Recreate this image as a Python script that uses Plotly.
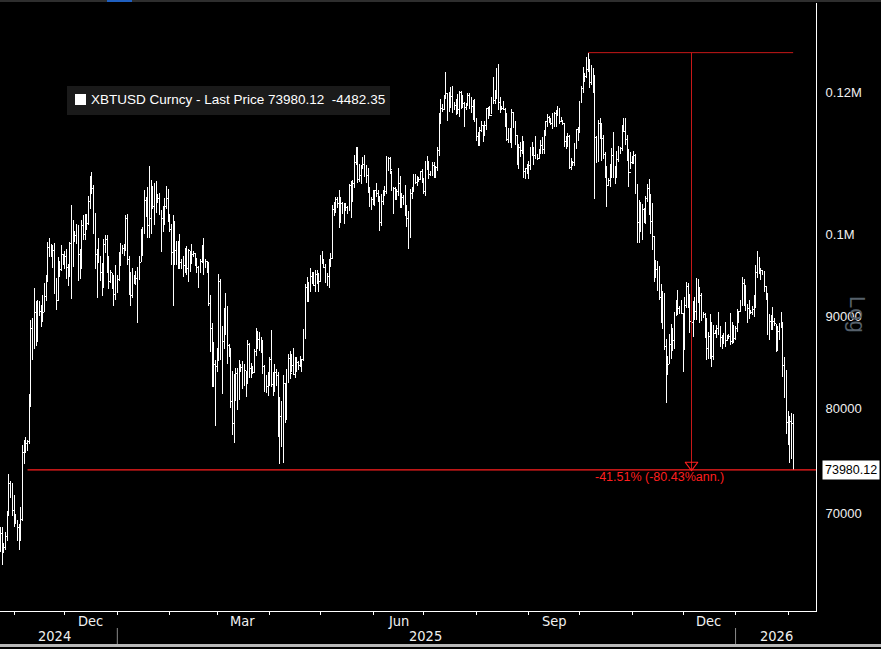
import math
import pandas as pd
import plotly.graph_objects as go

# ---------------- DATA (prices in thousands of USD, daily bars) ----------------
FIRST_OPEN = 67.0

C_2024_10 = [68.2, 66.6, 67.0, 67.9, 70.0, 72.7, 72.3, 70.2]
H_2024_10 = [68.8, 68.8, 67.4, 68.3, 70.2, 73.6, 72.9, 72.7]
L_2024_10 = [66.6, 65.5, 66.5, 66.8, 67.5, 69.7, 71.4, 69.7]

C_2024_11 = [69.5, 69.3, 68.7, 67.8, 69.4, 75.6, 75.9, 76.5, 76.7, 80.5, 88.7, 87.9, 90.5, 87.3, 91.0,
             90.6, 89.8, 90.5, 92.3, 94.3, 98.4, 98.9, 97.7, 98.0, 93.1, 91.9, 95.9, 95.6, 97.5, 96.4]
H_2024_11 = [71.6, 69.9, 69.4, 69.0, 70.5, 76.4, 76.9, 77.2, 76.9, 81.5, 89.6, 89.9, 93.4, 91.8, 91.9,
             91.8, 91.4, 92.5, 94.0, 94.9, 99.0, 99.6, 98.8, 98.6, 98.9, 94.6, 97.2, 96.6, 98.7, 97.5]
L_2024_11 = [68.8, 69.0, 67.5, 66.8, 67.5, 69.3, 74.5, 75.6, 75.8, 76.5, 80.2, 85.1, 86.3, 86.7, 87.1,
             90.1, 88.8, 89.4, 90.5, 91.8, 94.1, 97.2, 97.2, 95.8, 92.6, 90.8, 91.8, 94.7, 95.4, 96.2]

C_2024_12 = [97.2, 95.9, 96.0, 98.8, 96.6, 99.9, 99.9, 101.2, 97.4, 96.7, 101.2, 100.0, 101.5, 101.4, 104.3, 106.1,
             106.1, 100.2, 97.5, 97.8, 97.2, 95.2, 94.9, 98.7, 99.4, 95.8, 94.2, 95.2, 93.6, 92.6, 93.4]
H_2024_12 = [97.9, 98.2, 96.3, 99.0, 103.9, 101.9, 100.5, 101.4, 101.2, 98.2, 101.9, 102.5, 102.6, 102.6, 105.1, 107.8,
             108.3, 106.5, 102.8, 98.1, 99.5, 97.3, 96.4, 99.4, 99.9, 99.9, 97.3, 95.5, 95.2, 94.9, 96.1]
L_2024_12 = [95.7, 94.4, 93.6, 94.7, 92.1, 95.9, 99.0, 98.8, 94.2, 94.4, 95.7, 99.3, 99.3, 100.6, 101.2, 103.3,
             105.3, 100.0, 95.7, 92.2, 96.4, 94.2, 92.4, 93.4, 97.6, 95.2, 93.3, 94.0, 93.3, 91.3, 92.0]

C_2025_01 = [94.4, 96.9, 98.1, 98.2, 98.3, 102.1, 96.9, 95.0, 92.5, 94.7, 94.5, 94.5, 94.5, 96.5, 100.5, 99.9,
             104.4, 104.4, 101.1, 102.0, 106.1, 103.7, 104.0, 104.8, 104.7, 102.6, 102.0, 101.3, 103.7, 104.7, 102.4]
H_2025_01 = [94.9, 97.8, 98.9, 98.7, 98.8, 102.5, 102.7, 97.3, 95.3, 95.8, 94.9, 95.4, 95.9, 97.3, 100.7, 100.9,
             105.9, 104.9, 106.3, 109.1, 107.2, 106.4, 106.8, 107.1, 105.3, 105.5, 103.2, 103.7, 104.8, 106.4, 106.0]
L_2025_01 = [92.8, 94.2, 96.0, 97.5, 97.3, 97.9, 96.1, 92.5, 91.2, 92.2, 93.8, 93.7, 89.3, 94.3, 96.5, 97.3,
             100.0, 102.3, 99.6, 99.5, 100.1, 103.3, 101.2, 102.8, 104.1, 102.5, 97.8, 100.3, 101.3, 103.3, 101.6]

C_2025_02 = [100.6, 97.7, 101.4, 97.9, 96.6, 96.6, 96.5, 96.5, 96.1, 97.4, 95.7, 97.9, 96.6, 97.5,
             97.6, 96.1, 95.8, 95.5, 96.6, 98.3, 96.1, 96.6, 96.3, 91.5, 88.7, 84.3, 84.7, 84.4]
H_2025_02 = [102.7, 101.4, 102.5, 101.7, 99.1, 99.2, 100.1, 96.9, 97.3, 98.3, 98.5, 98.1, 97.9, 98.8,
             97.9, 97.7, 97.0, 96.0, 96.9, 98.7, 99.5, 96.9, 96.6, 96.5, 92.5, 89.3, 87.1, 85.1]
L_2025_02 = [100.3, 96.2, 91.2, 96.2, 96.2, 95.7, 95.7, 95.7, 94.7, 95.2, 94.9, 94.1, 95.3, 96.3,
             97.1, 96.0, 95.2, 93.4, 95.2, 96.4, 94.9, 95.8, 95.2, 91.3, 86.0, 82.3, 82.3, 78.2]

C_2025_03 = [86.0, 94.2, 86.1, 87.2, 90.6, 89.9, 86.7, 86.1, 80.7, 78.5, 82.9, 83.7, 81.0, 84.0, 84.3, 82.6,
             84.0, 82.7, 86.8, 84.2, 84.0, 83.8, 86.1, 87.5, 87.4, 86.9, 87.2, 84.4, 82.6, 82.3, 82.5]
H_2025_03 = [86.5, 95.0, 94.4, 88.9, 91.0, 92.8, 91.2, 86.9, 86.5, 84.0, 83.6, 84.3, 84.3, 85.2, 84.7, 85.0,
             84.7, 84.0, 87.4, 87.0, 84.8, 84.5, 86.3, 88.7, 88.4, 88.2, 87.7, 87.4, 84.6, 83.5, 83.9]
L_2025_03 = [83.8, 85.0, 85.1, 81.5, 86.3, 87.9, 84.7, 85.5, 80.1, 77.4, 76.6, 80.8, 79.9, 80.9, 83.8, 82.0,
             82.4, 81.2, 82.6, 83.2, 83.2, 83.6, 83.8, 85.6, 86.4, 86.1, 85.9, 83.6, 81.7, 81.6, 81.3]

C_2025_04 = [85.2, 82.5, 83.1, 83.8, 83.5, 78.4, 79.2, 76.3, 82.6, 79.6, 83.4, 85.3, 83.7, 84.5, 83.6,
             84.0, 84.9, 84.5, 85.1, 85.2, 87.5, 93.4, 93.7, 93.9, 94.7, 94.6, 93.7, 95.0, 94.3, 94.2]
H_2025_04 = [85.5, 88.5, 83.9, 84.7, 84.2, 83.8, 81.2, 80.8, 83.5, 82.7, 84.2, 85.8, 86.1, 85.8, 86.5,
             85.5, 85.5, 85.0, 85.6, 85.3, 88.6, 93.9, 94.7, 94.1, 95.8, 95.3, 95.3, 95.6, 95.5, 95.2]
L_2025_04 = [82.4, 82.3, 81.3, 81.7, 82.4, 77.2, 74.5, 76.2, 74.6, 78.5, 78.9, 82.7, 83.1, 83.9, 83.6,
             83.2, 83.8, 84.1, 84.4, 83.9, 85.0, 87.5, 91.7, 91.7, 92.9, 93.9, 93.6, 92.9, 93.8, 92.9]

C_2025_05 = [96.5, 96.9, 95.9, 94.3, 94.7, 96.8, 97.0, 103.2, 102.9, 104.6, 104.1, 102.8, 104.1, 103.5, 103.7, 103.5,
             103.2, 106.5, 105.6, 106.8, 109.6, 111.7, 107.3, 107.8, 108.9, 109.4, 108.9, 107.8, 105.6, 103.9, 104.6]
H_2025_05 = [97.4, 97.9, 96.9, 96.3, 95.2, 96.9, 97.7, 103.8, 104.3, 104.9, 104.9, 105.8, 104.9, 104.3, 104.1, 104.1,
             103.7, 106.6, 107.1, 107.2, 110.7, 111.9, 111.8, 109.4, 109.3, 110.4, 110.7, 109.3, 108.9, 106.3, 104.9]
L_2025_05 = [94.2, 96.3, 95.8, 94.0, 93.6, 93.4, 95.9, 96.9, 102.4, 102.8, 103.4, 100.8, 101.5, 102.6, 101.4, 103.1,
             102.6, 103.1, 102.1, 104.2, 106.1, 109.3, 106.8, 106.9, 106.7, 108.7, 107.6, 106.8, 105.4, 103.6, 103.2]

C_2025_06 = [105.7, 105.8, 105.4, 104.7, 101.5, 104.3, 105.6, 105.7, 110.3, 110.2, 108.7, 105.9, 106.1, 105.5, 105.6,
             106.8, 104.6, 104.9, 104.6, 103.3, 102.1, 101.0, 105.4, 105.9, 107.1, 106.9, 107.1, 107.3, 108.4, 107.1]
H_2025_06 = [105.9, 105.9, 106.8, 105.9, 105.0, 105.3, 105.9, 106.4, 110.6, 110.4, 110.4, 108.5, 106.2, 106.2, 106.0,
             108.9, 107.7, 105.5, 105.2, 106.5, 103.9, 103.0, 106.0, 106.3, 108.1, 108.0, 107.8, 107.6, 108.5, 108.8]
L_2025_06 = [103.9, 103.7, 104.9, 104.2, 100.4, 101.1, 103.9, 105.1, 105.3, 108.4, 108.1, 105.7, 102.7, 104.5, 104.5,
             105.0, 103.4, 103.5, 103.9, 102.4, 100.9, 98.2, 99.6, 104.7, 105.6, 106.6, 106.4, 106.9, 107.2, 106.8]

C_2025_07 = [105.7, 108.8, 109.6, 108.0, 108.2, 109.2, 108.3, 108.9, 111.3, 115.9, 117.5, 117.4, 119.1, 119.8, 117.7, 118.7,
             119.3, 117.9, 117.9, 117.3, 117.4, 119.9, 118.6, 118.3, 117.6, 117.9, 119.4, 118.0, 117.8, 117.8, 115.7]
H_2025_07 = [107.5, 109.8, 110.5, 109.8, 108.4, 109.7, 109.7, 109.2, 111.9, 116.8, 118.9, 118.2, 119.5, 123.1, 119.9, 120.0,
             120.8, 120.9, 118.4, 118.9, 119.7, 120.2, 120.1, 119.5, 118.4, 118.3, 119.8, 119.8, 119.3, 118.8, 118.9]
L_2025_07 = [105.3, 105.1, 108.6, 107.3, 107.8, 107.8, 107.5, 107.5, 108.4, 110.6, 115.2, 116.9, 117.3, 118.9, 115.7, 116.9,
             117.5, 116.8, 117.3, 116.5, 116.6, 116.2, 117.4, 117.6, 114.8, 117.2, 117.9, 117.4, 116.8, 115.8, 115.5]

C_2025_08 = [113.3, 112.5, 114.2, 115.0, 114.1, 115.0, 117.5, 116.7, 116.5, 119.3, 118.7, 120.2, 123.3, 118.4, 117.4, 117.5,
             117.4, 116.3, 112.9, 114.3, 112.5, 116.9, 115.4, 113.5, 110.1, 111.8, 111.3, 112.6, 108.4, 108.8, 108.2]
H_2025_08 = [116.1, 114.0, 114.7, 115.7, 115.1, 115.7, 117.6, 117.7, 117.9, 119.3, 122.3, 120.3, 123.7, 124.4, 119.3, 117.9,
             118.6, 117.6, 116.8, 114.6, 114.6, 117.4, 117.0, 115.6, 113.6, 112.3, 112.6, 113.4, 112.7, 108.9, 109.5]
L_2025_08 = [112.7, 112.0, 112.0, 114.0, 112.6, 113.4, 114.3, 115.9, 116.3, 116.6, 118.1, 118.2, 118.9, 117.2, 116.8, 117.2,
             117.2, 114.7, 112.7, 112.4, 112.4, 111.7, 114.6, 112.1, 109.3, 108.7, 110.4, 110.9, 107.5, 107.4, 108.1]

C_2025_09 = [109.2, 111.2, 111.7, 110.7, 110.7, 110.2, 111.1, 112.0, 111.5, 113.9, 115.5, 116.1, 115.9, 115.3, 115.4,
             116.8, 116.5, 117.1, 115.6, 115.7, 115.3, 112.7, 112.0, 113.3, 109.0, 109.6, 109.7, 112.1, 114.4, 114.0]
H_2025_09 = [109.9, 111.8, 112.6, 111.8, 113.4, 110.9, 111.6, 112.8, 113.3, 114.3, 115.6, 116.7, 116.4, 116.1, 116.8,
             117.0, 117.3, 117.9, 117.5, 116.2, 115.8, 115.4, 113.4, 113.9, 113.6, 110.3, 109.8, 112.4, 114.4, 114.8]
L_2025_09 = [107.3, 108.6, 110.6, 109.3, 110.2, 110.0, 110.2, 110.8, 110.9, 110.9, 113.4, 114.8, 115.3, 115.1, 114.4,
             114.8, 114.7, 116.3, 115.2, 115.5, 115.1, 111.9, 111.5, 111.9, 108.7, 108.6, 109.2, 109.2, 111.6, 112.7]

C_2025_10 = [118.6, 120.6, 122.3, 122.4, 123.5, 124.8, 121.4, 123.3, 121.7, 113.2, 110.6, 115.2, 115.3, 113.1, 110.8, 108.2,
             106.5, 107.2, 108.6, 110.6, 108.5, 107.6, 110.1, 111.0, 111.6, 114.5, 114.1, 112.9, 110.1, 108.3, 109.6]
H_2025_10 = [118.7, 121.0, 123.9, 122.9, 125.5, 126.2, 125.1, 124.2, 123.8, 122.6, 113.4, 115.8, 116.0, 115.3, 113.6, 111.1,
             109.2, 107.5, 109.4, 111.7, 114.0, 109.1, 111.3, 112.0, 111.9, 115.0, 116.1, 116.0, 113.6, 111.5, 111.1]
L_2025_10 = [113.9, 118.3, 119.9, 121.6, 122.2, 123.1, 120.6, 121.1, 119.8, 104.7, 109.6, 109.7, 113.0, 109.9, 110.2, 107.5,
             103.6, 106.4, 106.3, 107.5, 107.5, 106.7, 107.5, 109.7, 110.9, 111.3, 114.0, 112.1, 109.9, 106.3, 108.7]

C_2025_11 = [110.1, 110.6, 106.5, 101.6, 103.9, 101.3, 103.3, 102.3, 104.7, 106.0, 103.0, 101.7, 99.7, 94.6, 95.6,
             94.2, 92.2, 92.9, 91.5, 86.6, 85.1, 84.7, 86.8, 88.3, 87.3, 90.5, 91.3, 90.9, 90.8, 90.4]
H_2025_11 = [110.6, 111.2, 110.8, 106.6, 104.5, 104.2, 104.0, 103.4, 105.0, 106.6, 107.4, 105.3, 104.1, 99.8, 96.8,
             96.6, 96.0, 93.9, 93.0, 92.8, 87.5, 85.6, 88.0, 89.2, 88.7, 90.6, 91.9, 93.1, 91.2, 92.0]
L_2025_11 = [109.4, 109.5, 105.3, 98.9, 98.9, 100.3, 99.3, 101.5, 101.4, 104.3, 102.5, 100.1, 98.0, 94.1, 94.6,
             93.0, 91.9, 89.3, 88.6, 86.2, 80.6, 83.5, 84.7, 85.3, 86.1, 86.3, 90.1, 90.2, 90.3, 90.3]

C_2025_12 = [86.3, 91.3, 93.5, 92.1, 89.4, 89.3, 90.4, 90.6, 92.7, 92.0, 92.5, 90.3, 90.3, 88.2, 86.4, 87.8,
             86.2, 85.5, 88.1, 88.3, 88.6, 88.5, 87.6, 87.6, 87.3, 87.3, 87.8, 87.8, 87.2, 88.4, 87.5]
H_2025_12 = [90.4, 92.3, 94.1, 94.0, 92.7, 90.3, 91.8, 92.3, 94.6, 94.5, 93.5, 92.8, 90.6, 90.4, 89.9, 88.2,
             90.3, 89.4, 89.0, 88.5, 89.0, 90.6, 88.9, 87.9, 88.1, 89.4, 87.9, 88.0, 90.4, 89.4, 89.0]
L_2025_12 = [83.8, 86.2, 91.0, 91.0, 88.1, 88.9, 87.7, 89.6, 89.6, 91.6, 89.3, 89.5, 89.8, 87.6, 85.2, 85.3,
             85.3, 84.4, 85.2, 88.0, 87.6, 87.9, 86.6, 86.4, 86.9, 86.6, 87.2, 87.5, 86.8, 86.9, 87.0]

C_2026_01 = [88.7, 90.0, 90.6, 91.4, 93.9, 93.7, 91.3, 91.0, 90.6, 90.5, 90.8, 91.2, 95.3, 97.0, 95.6, 95.5,
             95.1, 93.6, 92.6, 88.3, 89.4, 89.5, 89.5, 89.2, 86.6, 88.3, 89.1, 89.2, 84.5, 84.1, 78.6]
H_2026_01 = [88.9, 90.9, 90.7, 91.9, 94.7, 94.4, 93.7, 91.5, 91.9, 90.8, 91.2, 92.5, 96.2, 97.9, 97.2, 95.8,
             95.6, 95.4, 93.6, 92.8, 90.3, 90.2, 91.1, 89.8, 89.2, 88.9, 89.3, 90.5, 89.4, 85.5, 84.1]
L_2026_01 = [87.3, 88.2, 89.3, 90.5, 91.3, 91.2, 90.7, 89.3, 89.7, 90.3, 90.2, 90.0, 91.0, 94.6, 95.1, 94.3,
             94.9, 92.9, 91.9, 87.9, 87.3, 88.5, 88.5, 88.9, 86.0, 86.1, 87.3, 88.7, 83.3, 81.1, 77.5]

C_2026_02 = [76.9, 78.7, 78.46247, 73.98012]
H_2026_02 = [79.8, 79.3, 79.6, 79.5]
L_2026_02 = [76.4, 74.6, 75.0, 73.98012]

MONTHS = [
    ("2024-10-24", C_2024_10, H_2024_10, L_2024_10),
    ("2024-11-01", C_2024_11, H_2024_11, L_2024_11),
    ("2024-12-01", C_2024_12, H_2024_12, L_2024_12),
    ("2025-01-01", C_2025_01, H_2025_01, L_2025_01),
    ("2025-02-01", C_2025_02, H_2025_02, L_2025_02),
    ("2025-03-01", C_2025_03, H_2025_03, L_2025_03),
    ("2025-04-01", C_2025_04, H_2025_04, L_2025_04),
    ("2025-05-01", C_2025_05, H_2025_05, L_2025_05),
    ("2025-06-01", C_2025_06, H_2025_06, L_2025_06),
    ("2025-07-01", C_2025_07, H_2025_07, L_2025_07),
    ("2025-08-01", C_2025_08, H_2025_08, L_2025_08),
    ("2025-09-01", C_2025_09, H_2025_09, L_2025_09),
    ("2025-10-01", C_2025_10, H_2025_10, L_2025_10),
    ("2025-11-01", C_2025_11, H_2025_11, L_2025_11),
    ("2025-12-01", C_2025_12, H_2025_12, L_2025_12),
    ("2026-01-01", C_2026_01, H_2026_01, L_2026_01),
    ("2026-02-01", C_2026_02, H_2026_02, L_2026_02),
]

TICK_VALUES = [70000, 80000, 90000, 100000, 120000]
TICK_TEXT = ["70000", "80000", "90000", "0.1M", "0.12M"]
MONTH_LABELS = [("2024-12-16", "Dec"), ("2025-03-16", "Mar"), ("2025-06-16", "Jun"),
                ("2025-09-16", "Sep"), ("2025-12-16", "Dec")]
YEAR_LABELS = [("2024-11-25", "2024"), ("2025-07-02", "2025"), ("2026-01-25", "2026")]
YEAR_BREAKS = ["2025-01-01", "2026-01-01"]
DD_PCT = -41.51
DD_ANN = -80.43
PEAK_DATE = "2025-10-06"
MEASURE_DATE = "2025-12-06"
MEASURE_END = "2026-02-04"
LEVEL_START = "2024-11-09"
TICKER = "XBTUSD Curncy"

# ---------------- assemble series ----------------
dates, closes, highs, lows = [], [], [], []
for i, (start, c, h, l) in enumerate(MONTHS):
    assert len(c) == len(h) == len(l), start
    ds = pd.date_range(start, periods=len(c), freq="D")
    assert ds[-1].month == ds[0].month, start
    if i < len(MONTHS) - 1:
        assert (ds[-1] + pd.Timedelta(days=1)).day == 1, start
    dates += list(ds)
    closes += [v * 1000 for v in c]
    highs += [v * 1000 for v in h]
    lows += [v * 1000 for v in l]
opens = [FIRST_OPEN * 1000] + closes[:-1]

last = closes[-1]
change = closes[-1] - closes[-2]
peak = max(highs)

# ---------------- geometry helpers ----------------
W, H = 881, 649
PL, PR, PT, PB = 0, 816, 3, 611


def px_x(p):
    return (p - PL) / (PR - PL)


def px_y(p):
    return (PB - p) / (PB - PT)


DEC = 1798.5  # px per decade
Y_REF_PX = 92  # pixel of 120000
L_top = math.log10(120000) + (Y_REF_PX - PT) / DEC
L_bot = math.log10(120000) - (PB - Y_REF_PX) / DEC


def y_at_px(p):
    return 10 ** (math.log10(120000) - (p - Y_REF_PX) / DEC)


X_START = "2024-10-23 17:36"
X_END = "2026-02-17 12:00"

WHITE = "#ffffff"
RED = "#ff1f1f"
TXT = "#f0f0f0"

fig = go.Figure()

fig.add_trace(go.Ohlc(
    x=dates, open=opens, high=highs, low=lows, close=closes,
    increasing=dict(line=dict(color=WHITE, width=1)),
    decreasing=dict(line=dict(color=WHITE, width=1)),
    tickwidth=0.45, hoverinfo="skip", showlegend=False,
))

# last price level line
fig.add_trace(go.Scatter(x=[LEVEL_START, X_END], y=[last, last], mode="lines",
                         line=dict(color=RED, width=1.2), hoverinfo="skip", showlegend=False))
# peak line and measurement
fig.add_trace(go.Scatter(x=[PEAK_DATE, MEASURE_END], y=[peak, peak], mode="lines",
                         line=dict(color="#c81818", width=1), hoverinfo="skip", showlegend=False))
fig.add_trace(go.Scatter(x=[MEASURE_DATE, MEASURE_DATE], y=[peak, last], mode="lines",
                         line=dict(color="#c81818", width=1), hoverinfo="skip", showlegend=False))
fig.add_trace(go.Scatter(x=[MEASURE_DATE], y=[y_at_px(465)], mode="markers",
                         marker=dict(symbol="triangle-down-open", size=11, color=RED, line=dict(width=1.2, color=RED)),
                         hoverinfo="skip", showlegend=False))

# right axis tick arrows and last price arrow (overlay x axis in paper-like units)
fig.add_trace(go.Scatter(x=[1 + 3.5 / (PR - PL)] * len(TICK_VALUES), y=TICK_VALUES, xaxis="x2", yaxis="y",
                         mode="markers", marker=dict(symbol="triangle-right", size=6, color=WHITE),
                         cliponaxis=False, hoverinfo="skip", showlegend=False))
fig.add_trace(go.Scatter(x=[1 + 5 / (PR - PL)], y=[last], xaxis="x2", yaxis="y",
                         mode="markers", marker=dict(symbol="triangle-left", size=12, color=WHITE),
                         cliponaxis=False, hoverinfo="skip", showlegend=False))

shapes = []
# legend box
shapes.append(dict(type="rect", xref="paper", yref="paper", x0=px_x(67), x1=px_x(390), y0=px_y(115), y1=px_y(86),
                   fillcolor="#1a1a1a", line=dict(width=0), layer="above"))
shapes.append(dict(type="rect", xref="paper", yref="paper", x0=px_x(75), x1=px_x(86), y0=px_y(105), y1=px_y(94),
                   fillcolor=WHITE, line=dict(width=0), layer="above"))
# year separators
for d in YEAR_BREAKS:
    shapes.append(dict(type="line", xref="x", yref="paper", x0=d, x1=d, y0=px_y(628), y1=px_y(645),
                       line=dict(color="#8a8a8a", width=1)))
# bottom strip
shapes.append(dict(type="rect", xref="paper", yref="paper", x0=px_x(0), x1=px_x(W), y0=px_y(647), y1=px_y(644),
                   fillcolor="#b8b8b8", line=dict(width=0)))
# top strip
shapes.append(dict(type="rect", xref="paper", yref="paper", x0=px_x(0), x1=px_x(W), y0=px_y(2), y1=px_y(0),
                   fillcolor="#2e2e2e", line=dict(width=0)))
shapes.append(dict(type="rect", xref="paper", yref="paper", x0=px_x(107), x1=px_x(132), y0=px_y(2), y1=px_y(0),
                   fillcolor="#1f5fbf", line=dict(width=0)))

annotations = []
annotations.append(dict(xref="paper", yref="paper", x=px_x(89), y=px_y(100), xanchor="left", yanchor="middle",
                        text=f"{TICKER} - Last Price {last:.2f}\u00a0\u00a0{change:.2f}", showarrow=False,
                        font=dict(family="Liberation Sans, Arial", size=13.5, color=WHITE)))
annotations.append(dict(xref="x", yref="paper", x="2025-11-17", y=px_y(477), xanchor="center", yanchor="middle",
                        text=f"{DD_PCT:.2f}% ({DD_ANN:.2f}%ann.)", showarrow=False,
                        font=dict(family="Liberation Sans, Arial", size=12.5, color=RED)))
annotations.append(dict(xref="paper", yref="paper", x=px_x(822), y=px_y(469.5), xanchor="left", yanchor="middle",
                        text=f"{last:.2f}", showarrow=False, bgcolor=WHITE, borderpad=2,
                        font=dict(family="Liberation Sans, Arial", size=12.5, color="#000000")))
annotations.append(dict(xref="paper", yref="paper", x=px_x(858), y=px_y(314), xanchor="center", yanchor="middle",
                        text="Log", textangle=90, showarrow=False,
                        font=dict(family="Liberation Sans, Arial", size=22, color="#56606b")))
XFONT = dict(family="Liberation Sans Narrow, DejaVu Sans Condensed, Arial Narrow, Liberation Sans", size=14.5, color=TXT)
for d, t in MONTH_LABELS:
    annotations.append(dict(xref="x", yref="paper", x=d, y=px_y(621), xanchor="center", yanchor="middle",
                            text=t, showarrow=False, font=XFONT))
for d, t in YEAR_LABELS:
    annotations.append(dict(xref="x", yref="paper", x=d, y=px_y(636), xanchor="center", yanchor="middle",
                            text=t, showarrow=False, font=XFONT))

month_starts = pd.date_range("2024-11-01", "2026-02-01", freq="MS")

fig.update_layout(
    width=W, height=H,
    margin=dict(l=PL, r=W - PR, t=PT, b=H - PB, autoexpand=False),
    paper_bgcolor="#000000", plot_bgcolor="#000000",
    showlegend=False,
    xaxis=dict(type="date", range=[X_START, X_END], showgrid=False, zeroline=False,
               showline=True, linecolor=WHITE, linewidth=1,
               tickvals=list(month_starts), ticktext=[""] * len(month_starts),
               ticks="outside", ticklen=3, tickcolor=WHITE, tickwidth=1,
               showticklabels=False, rangeslider=dict(visible=False), automargin=False, fixedrange=True),
    xaxis2=dict(overlaying="x", range=[0, 1], visible=False, anchor="y", fixedrange=True),
    yaxis=dict(type="log", range=[L_bot, L_top], side="right", showgrid=False, zeroline=False,
               showline=True, linecolor=WHITE, linewidth=1, mirror=False,
               tickvals=TICK_VALUES, ticktext=TICK_TEXT, ticks="", ticklabelstandoff=6,
               tickfont=dict(family="Liberation Sans, Arial", size=13, color=TXT),
               automargin=False, fixedrange=True),
    shapes=shapes, annotations=annotations,
)

POST = (
    "document.body.style.margin='0';document.body.style.padding='0';"
    "document.body.style.background='#000';document.documentElement.style.background='#000';"
    "document.querySelectorAll('g.ohlc path').forEach(function(p){p.style.shapeRendering='crispEdges';});"
)
fig.write_html("out.html", config={"displayModeBar": False}, post_script=POST)
